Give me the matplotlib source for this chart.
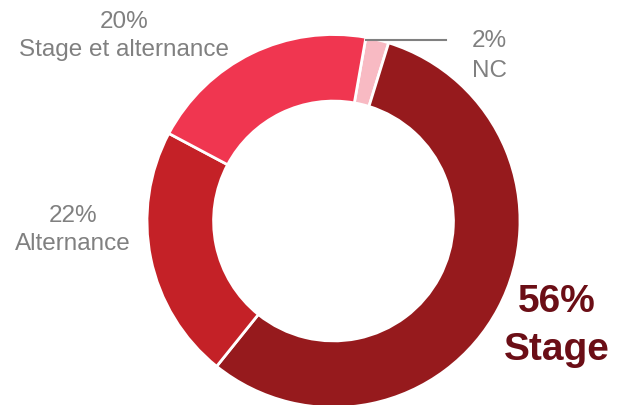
import matplotlib
matplotlib.use('Agg')
import matplotlib.pyplot as plt

labels = ['NC', 'Stage', 'Alternance', 'Stage et alternance']
values = [2, 56, 22, 20]
colors = ['#F8BAC3', '#961A1D', '#C42127', '#F03650']

plt.rcParams['font.family'] = ['Liberation Sans', 'DejaVu Sans']

fig = plt.figure(figsize=(6.19, 4.06), dpi=100)
ax = fig.add_axes([0, 0, 1, 1])

# pixel-like coordinates, y measured up from the bottom
cx, cy, r = 333.5, 406 - 222, 186.5
ax.pie(values, colors=colors, startangle=80, counterclock=False,
       center=(cx, cy), radius=r,
       wedgeprops=dict(width=r * 0.357, edgecolor='white', linewidth=2))
ax.set_aspect('auto')
ax.set_xlim(0, 619)
ax.set_ylim(0, 406)
ax.axis('off')

gray = '#808080'
ax.text(124, 406 - 36, '%d%%\n%s' % (values[3], labels[3]), ha='center', va='center',
        fontsize=17.5, color=gray, linespacing=1.3)
ax.text(73, 406 - 230, '%d%%\n%s' % (values[2], labels[2]), ha='center', va='center',
        fontsize=17.5, color=gray, linespacing=1.35)
ax.text(489, 406 - 56, '%d%%\n%s' % (values[0], labels[0]), ha='center', va='center',
        fontsize=17.5, color=gray, linespacing=1.45)
ax.plot([366, 446], [406 - 41, 406 - 41], color=gray, lw=1.5)
ax.text(557, 406 - 326, '%d%%\n%s' % (values[1], labels[1]), ha='center', va='center',
        fontsize=28, color='#6B0E16', fontweight='bold', linespacing=1.4)

fig.savefig('out.png', dpi=100)
